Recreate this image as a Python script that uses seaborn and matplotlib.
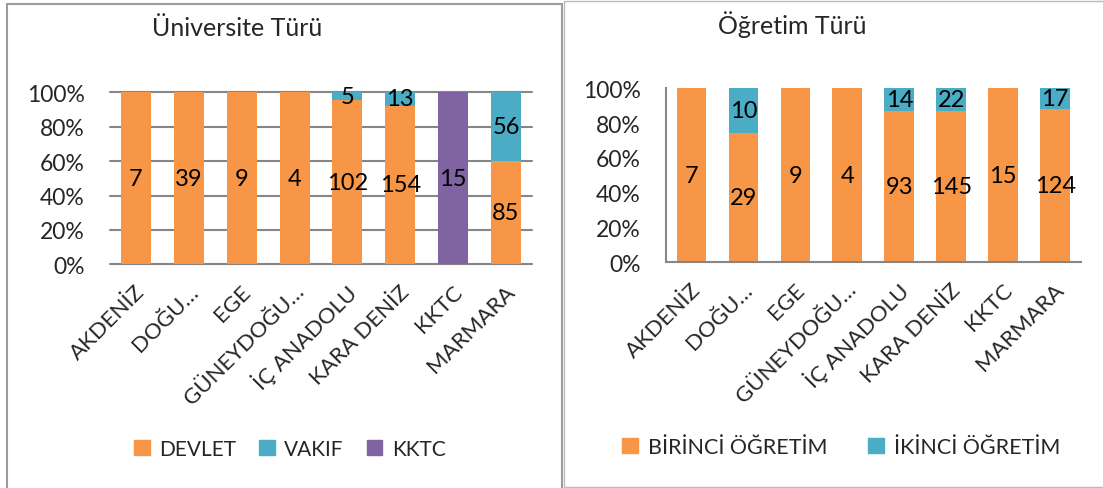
import numpy as np
import pandas as pd
import matplotlib
matplotlib.use("Agg")
import matplotlib.pyplot as plt
import matplotlib.transforms as mtransforms
from matplotlib.patches import Patch, Rectangle
import seaborn as sns

# Regions (shared by both panels)
regions = ["AKDENİZ", "DOĞU…", "EGE", "GÜNEYDOĞU…", "İÇ ANADOLU",
           "KARA DENİZ", "KKTC", "MARMARA"]

# University type counts
devlet = [7, 39, 9, 4, 102, 154, 0, 85]
vakif = [0, 0, 0, 0, 5, 13, 0, 56]
kktc = [0, 0, 0, 0, 0, 0, 15, 0]

# Education type counts
birinci = [7, 29, 9, 4, 93, 145, 15, 124]
ikinci = [0, 10, 0, 0, 14, 22, 0, 17]

pct_ticks = [0, 20, 40, 60, 80, 100]
pct_labels = ["0%", "20%", "40%", "60%", "80%", "100%"]

ORANGE = "#F79646"
TEAL = "#4BACC6"
PURPLE = "#8064A2"
GRID = "#868686"

sns.set_style("white")
plt.rcParams["font.family"] = ["Lato", "DejaVu Sans"]
FS_TICK = 16.5
FS_XTICK = 16
FS_VAL = 17
FS_LEG = 15.5
FS_TITLE = 18

W, H = 1103, 489
fig = plt.figure(figsize=(W / 100, H / 100), dpi=100)


def fx(px):
    return px / W


def fy(py):
    return 1 - py / H


def stacked_percent(ax, series, colors):
    """Draw 100% stacked bars by overlaying cumulative shares."""
    counts = np.array(series, dtype=float)
    totals = counts.sum(axis=0)
    shares = counts / totals * 100
    cum = np.cumsum(shares, axis=0)
    for k in range(len(series) - 1, -1, -1):
        df = pd.DataFrame({"region": regions, "share": cum[k]})
        sns.barplot(data=df, x="region", y="share", order=regions,
                    color=colors[k], saturation=1, width=0.57,
                    linewidth=0, ax=ax, zorder=2)
    lower = np.vstack([np.zeros(len(regions)), cum[:-1]])
    for k in range(len(series)):
        for i in range(len(regions)):
            v = counts[k, i]
            if v > 0:
                ax.text(i, (lower[k, i] + cum[k, i]) / 2, f"{int(v)}",
                        ha="center", va="center", fontsize=FS_VAL,
                        color="black", zorder=5)
    ax.set_xlim(-0.5, len(regions) - 0.5)
    ax.set_ylim(0, 100)
    ax.set_yticks(pct_ticks)
    ax.set_yticklabels(pct_labels)
    ax.set_xlabel("")
    ax.set_ylabel("")
    ax.tick_params(axis="y", length=0, pad=18, labelsize=FS_TICK)
    ax.tick_params(axis="x", length=0, pad=17, labelsize=FS_XTICK)
    shift = mtransforms.ScaledTranslation(6 / 100, 0, fig.dpi_scale_trans)
    for lab in ax.get_xticklabels():
        lab.set_rotation(45)
        lab.set_ha("right")
        lab.set_rotation_mode("anchor")
        lab.set_va("center")
        lab.set_transform(lab.get_transform() + shift)


# Panel frames
fig.add_artist(Rectangle((fx(7), fy(495)), fx(562) - fx(7), fy(5) - fy(495),
                         transform=fig.transFigure, fill=False,
                         edgecolor="#9c9c9c", linewidth=1.5))
fig.add_artist(Rectangle((fx(563.5), fy(488)), fx(1110) - fx(563.5),
                         fy(2) - fy(488), transform=fig.transFigure,
                         fill=False, edgecolor="#bcbcbc", linewidth=1.0))

# Left panel: university type
ax1 = fig.add_axes([fx(109.6), fy(265.3), fx(532.4) - fx(109.6),
                    fy(93.3) - fy(265.3)])
stacked_percent(ax1, [devlet, vakif, kktc], [ORANGE, TEAL, PURPLE])
for s in ax1.spines.values():
    s.set_visible(False)
for t in pct_ticks:
    ax1.axhline(t, color=GRID, linewidth=1.5, zorder=1, clip_on=False)
fig.text(fx(237), fy(29), "Üniversite Türü", ha="center", va="center",
         fontsize=FS_TITLE)
fig.legend(handles=[Patch(color=ORANGE, label="DEVLET"),
                    Patch(color=TEAL, label="VAKIF"),
                    Patch(color=PURPLE, label="KKTC")],
           loc="center", bbox_to_anchor=(fx(290), fy(450)), ncol=3,
           frameon=False, fontsize=15, handlelength=0.75,
           handleheight=0.75, handletextpad=0.45, columnspacing=1.1,
           borderpad=0)

# Right panel: education type
ax2 = fig.add_axes([fx(665.5), fy(263.3), fx(1081) - fx(665.5),
                    fy(89.3) - fy(263.3)])
stacked_percent(ax2, [birinci, ikinci], [ORANGE, TEAL])
for name, s in ax2.spines.items():
    if name in ("left", "bottom"):
        s.set_visible(True)
        s.set_color(GRID)
        s.set_linewidth(1.5)
    else:
        s.set_visible(False)
fig.text(fx(792), fy(25), "Öğretim Türü", ha="center", va="center",
         fontsize=FS_TITLE)
fig.legend(handles=[Patch(color=ORANGE, label="BİRİNCİ ÖĞRETİM"),
                    Patch(color=TEAL, label="İKİNCİ ÖĞRETİM")],
           loc="center", bbox_to_anchor=(fx(841), fy(448)), ncol=2,
           frameon=False, fontsize=FS_LEG, handlelength=0.75,
           handleheight=0.75, handletextpad=0.45, columnspacing=1.9,
           borderpad=0)

fig.savefig("out.png", dpi=100, facecolor="white")
